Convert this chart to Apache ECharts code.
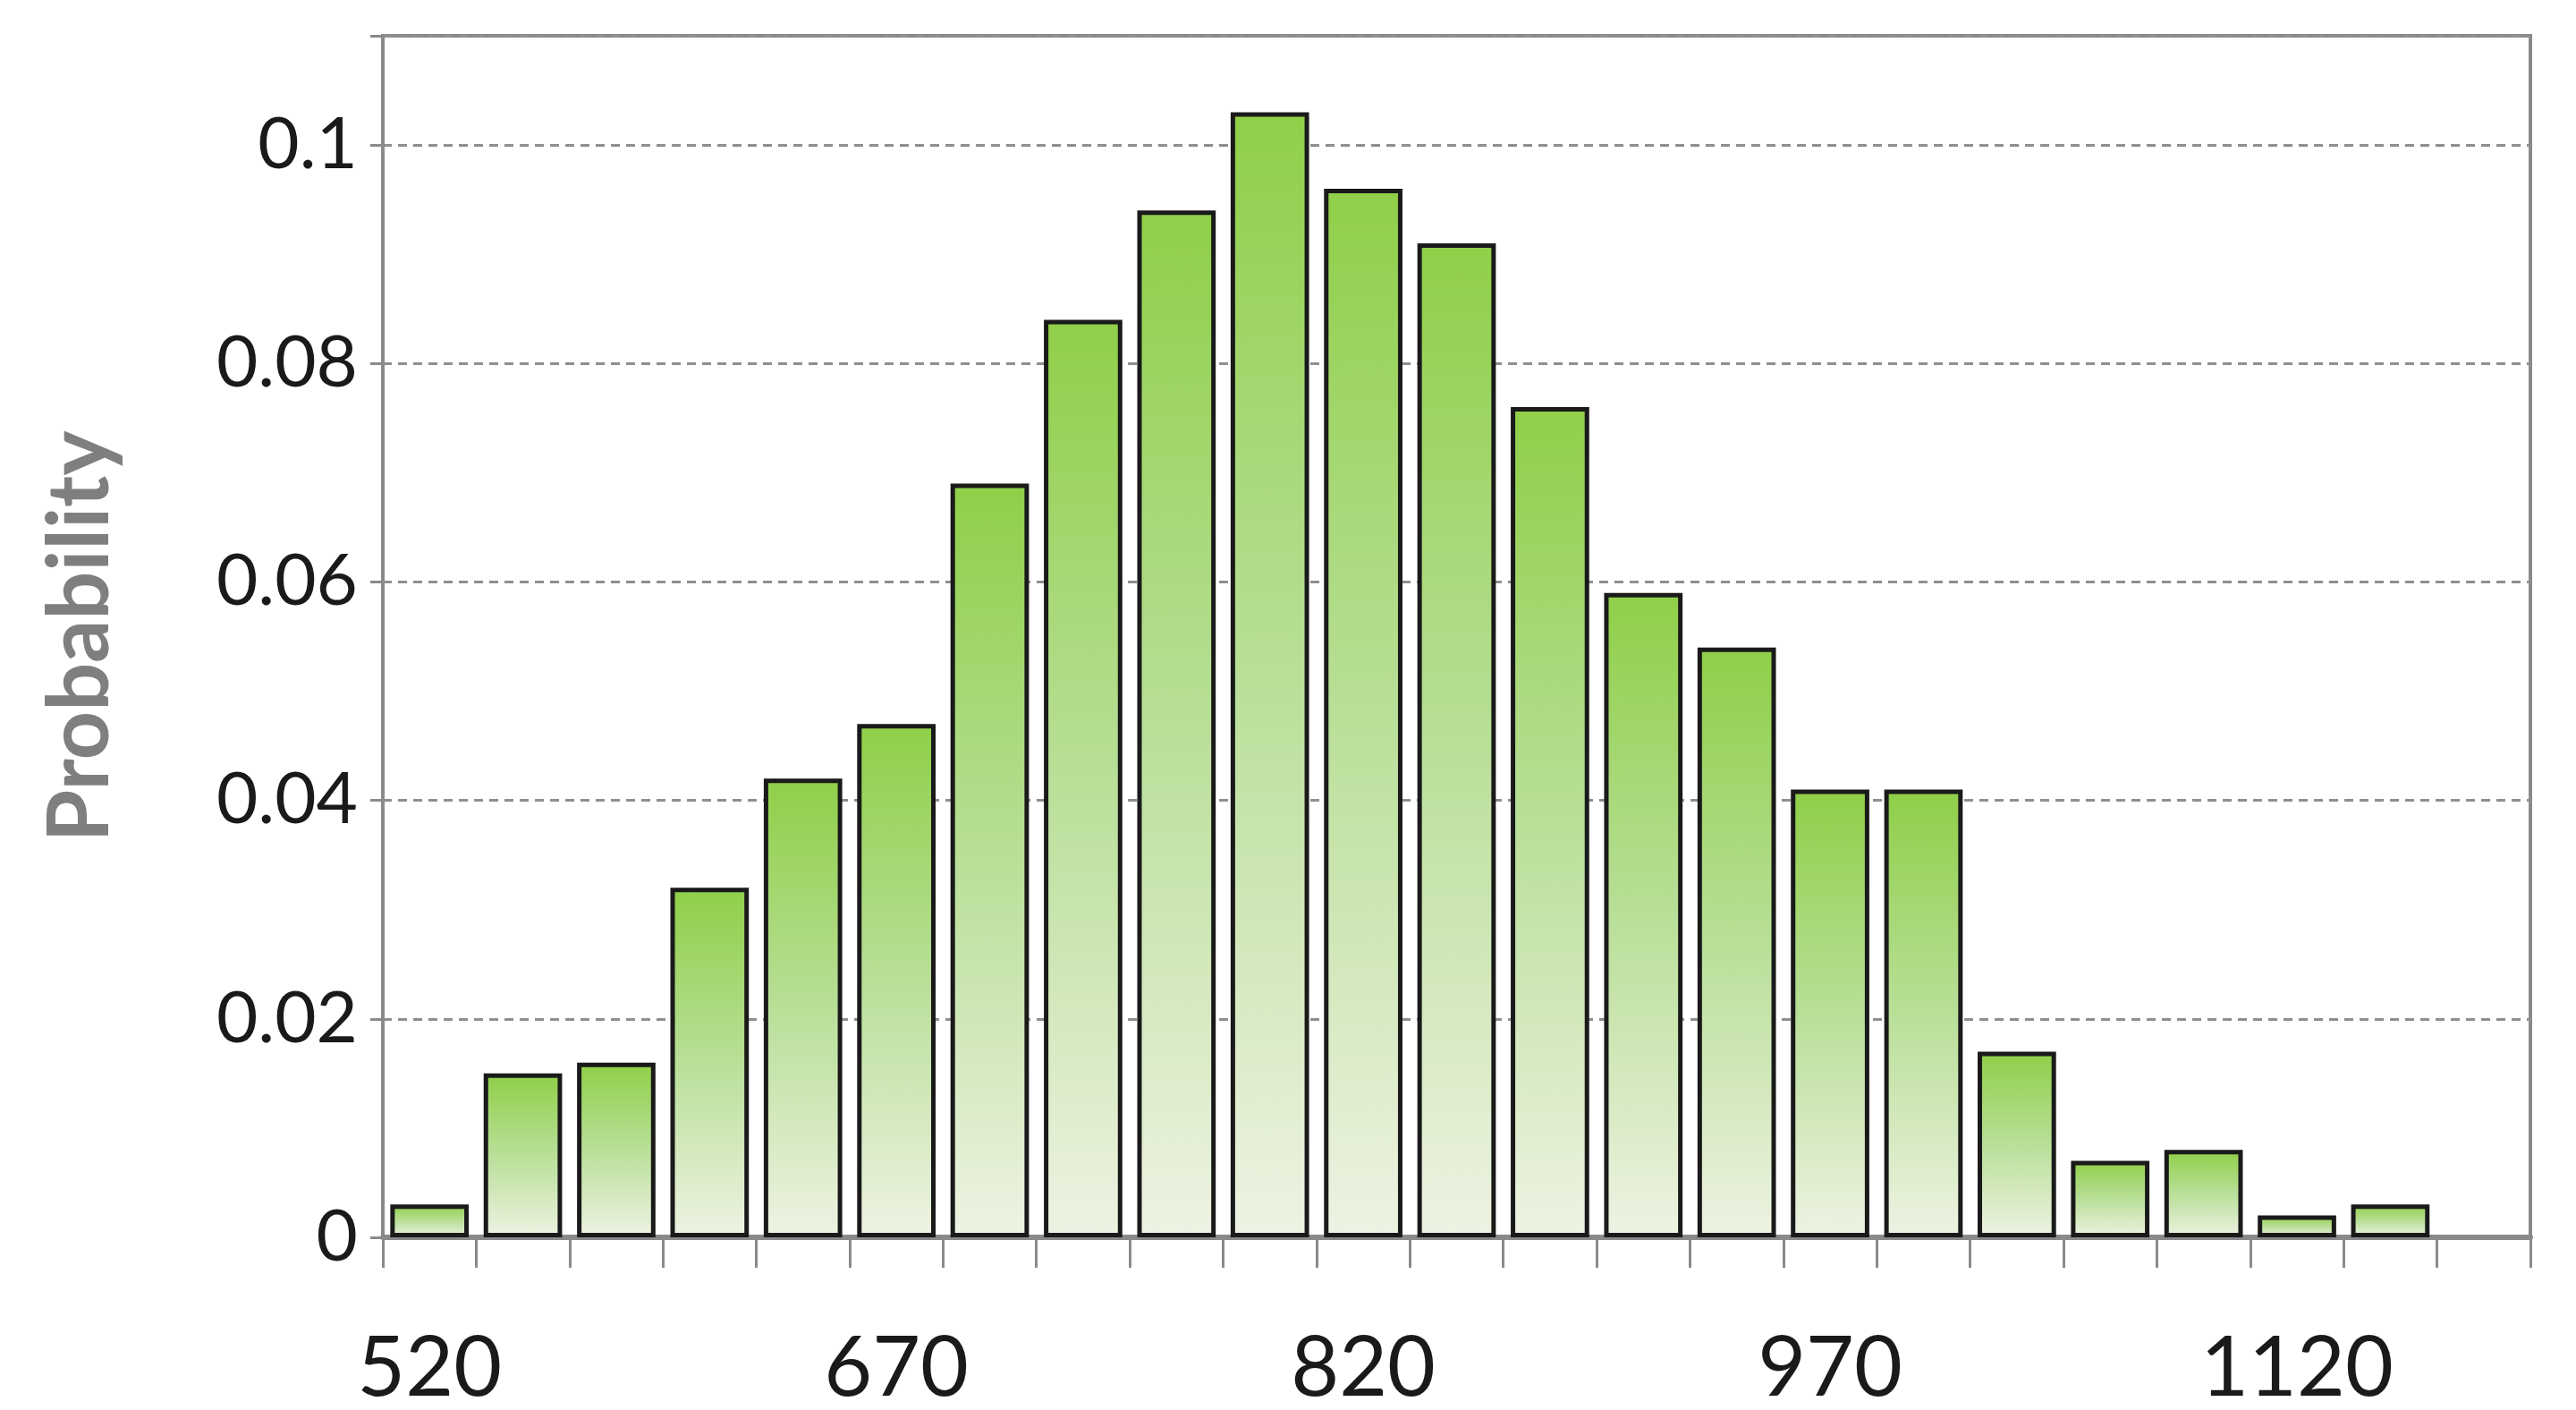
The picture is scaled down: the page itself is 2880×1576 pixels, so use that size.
<!DOCTYPE html>
<html>
<head>
<meta charset="utf-8">
<script src="https://cdn.jsdelivr.net/npm/echarts@6/dist/echarts.min.js"></script>
<style>
html,body{margin:0;padding:0;background:#fff;}
#chart{width:2880px;height:1576px;}
</style>
</head>
<body>
<div id="chart"></div>
<script>
const categories = ['520','550','580','610','640','670','700','730','760','790','820','850','880','910','940','970','1000','1030','1060','1090','1120','1150','1180'];
const probabilities = [0.003,0.015,0.016,0.032,0.042,0.047,0.069,0.084,0.094,0.103,0.096,0.091,0.076,0.059,0.054,0.041,0.041,0.017,0.007,0.008,0.002,0.003,null];
const yTicks = [0,0.02,0.04,0.06,0.08,0.1];
const yAxisTitle = 'Probability';

const chart = echarts.init(document.getElementById('chart'));
chart.setOption({
  backgroundColor: '#ffffff',
  animation: false,
  grid: {left: 428, right: 51, top: 40, bottom: 186, show: true, borderColor: '#8a8a8a', borderWidth: 4, backgroundColor: 'transparent'},
  xAxis: {
    type: 'category',
    data: categories,
    boundaryGap: true,
    axisLine: {lineStyle: {color: '#8a8a8a', width: 6}},
    axisTick: {show: true, alignWithLabel: false, interval: 0, length: 34, lineStyle: {color: '#8a8a8a', width: 3}},
    axisLabel: {interval: 4, margin: 100, fontFamily: 'Lato', fontSize: 93, color: '#1a1a1a'}
  },
  yAxis: {
    type: 'value',
    min: 0, max: 0.11, interval: 0.02,
    name: yAxisTitle,
    nameLocation: 'middle',
    nameGap: 290,
    nameTextStyle: {fontFamily: 'Lato', fontWeight: 'bold', fontSize: 95, color: '#7f7f7f'},
    axisLine: {show: true, lineStyle: {color: '#8a8a8a', width: 4}},
    axisTick: {show: true, length: 14, lineStyle: {color: '#8a8a8a', width: 3}},
    axisLabel: {margin: 28, fontFamily: 'Lato', fontWeight: 400, fontSize: 80, color: '#1a1a1a',
      formatter: v => (yTicks.some(t => Math.abs(t - v) < 1e-9) ? String(+v.toFixed(2)) : '')},
    splitLine: {show: true, lineStyle: {color: '#8f8f8f', width: 3, type: [10, 7]}}
  },
  series: [{
    type: 'bar',
    data: probabilities,
    barCategoryGap: '16%',
    itemStyle: {
      borderColor: '#1a1a1a',
      borderWidth: 5,
      color: new echarts.graphic.LinearGradient(0, 0, 0, 1, [
        {offset: 0, color: '#8fcf48'},
        {offset: 0.5, color: '#b9df98'},
        {offset: 1, color: '#eef3e3'}
      ])
    }
  }]
});
</script>
</body>
</html>
